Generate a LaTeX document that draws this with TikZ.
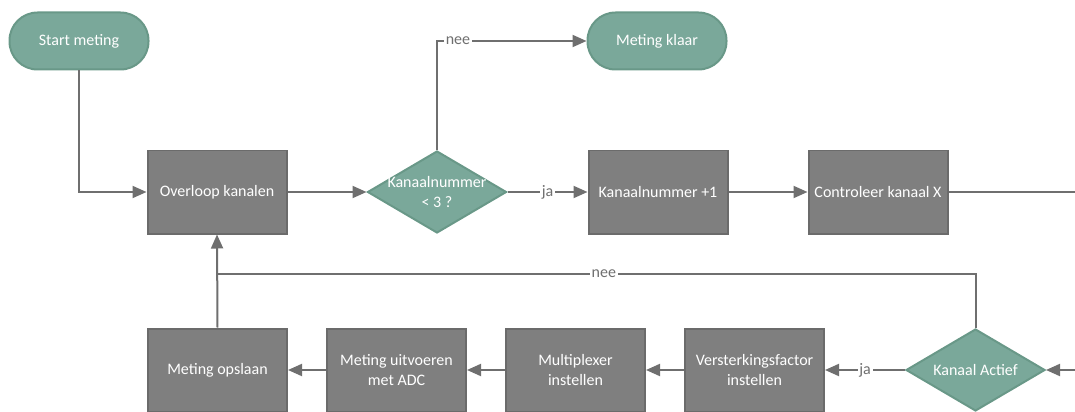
\documentclass[tikz,border=0pt]{standalone}
\usepackage{fontspec}
\setmainfont{Carlito}
\usepackage{xcolor}
\usepackage{tikz}
\usetikzlibrary{arrows.meta,positioning,shapes.geometric,calc}
\definecolor{groen}{HTML}{7AA89A}
\definecolor{groenrand}{HTML}{699888}
\definecolor{grijs}{HTML}{7F7F7F}
\definecolor{grijsrand}{HTML}{6B6B6B}
\definecolor{lijn}{HTML}{6F6F6F}
\tikzset{
	blok/.style={rectangle,draw=grijsrand,fill=grijs,line width=0.04cm,minimum width=2.78cm,minimum height=1.66cm,text=white,align=center,font=\fontsize{9.1}{11.2}\selectfont},
	eind/.style={rectangle,rounded corners=0.56cm,draw=groenrand,fill=groen,line width=0.04cm,minimum width=2.78cm,minimum height=1.14cm,text=white,font=\fontsize{9.1}{11.2}\selectfont},
	beslis/.style={diamond,draw=groenrand,fill=groen,line width=0.04cm,minimum width=2.78cm,minimum height=1.64cm,inner sep=0pt},
	tekst/.style={text=white,align=center,inner sep=0pt,font=\fontsize{9.1}{11.2}\selectfont},
	pijl/.style={draw=lijn,line width=0.04cm,-{Triangle[length=0.28cm,width=0.24cm]}},
	lijntje/.style={draw=lijn,line width=0.04cm},
	keuze/.style={fill=white,text=lijn,inner sep=1pt,font=\fontsize{9.1}{11.2}\selectfont}
}
\begin{document}
\begin{tikzpicture}[transform shape,scale=1]
		\useasboundingbox (0,0) rectangle (21.5,8.22);
		\clip (0,0) rectangle (21.5,8.22);
		% bovenste rij
		\node[eind] (start) at (1.58,7.4) {Start meting};
		\node[eind] (klaar) at (13.14,7.4) {Meting klaar};
		\node[blok] (overloop) at (4.34,4.38) {Overloop kanalen};
		\node[beslis] (kn) at (8.74,4.38) {};
		\node[tekst] (kntekst) at (kn) {Kanaalnummer\\< 3 ?};
		\node[blok] (plus) at (13.16,4.38) {Kanaalnummer +1};
		\node[blok] (controle) at (17.56,4.38) {Controleer kanaal X};
		% onderste rij
		\node[beslis] (actief) at (19.51,0.82) {};
		\node[tekst] (actieftekst) at (actief) {Kanaal Actief};
		\node[blok] (versterk) at (15.09,0.82) {Versterkingsfactor\\instellen};
		\node[blok] (mux) at (11.51,0.82) {Multiplexer\\instellen};
		\node[blok] (adc) at (7.93,0.82) {Meting uitvoeren\\met ADC};
		\node[blok] (opslaan) at (4.35,0.82) {Meting opslaan};
		\coordinate (omweg) at (22.5,4.38);
		\coordinate (terug) at (4.34,2.74);
		% verbindingen
		\draw[pijl] (start.south) |- (overloop.west);
		\draw[pijl] (overloop.east) -- (kn.west);
		\draw[pijl] (kn.north) |- node[keuze,pos=0.57] {nee} (klaar.west);
		\draw[pijl] (kn.east) -- node[keuze] {ja} (plus.west);
		\draw[pijl] (plus.east) -- (controle.west);
		\draw[pijl] (controle.east) -- (omweg) |- (actief.east);
		\draw[pijl] (actief.west) -- node[keuze] {ja} (versterk.east);
		\draw[pijl] (versterk.west) -- (mux.east);
		\draw[pijl] (mux.west) -- (adc.east);
		\draw[pijl] (adc.west) -- (opslaan.east);
		\draw[pijl] (opslaan.north) -- (overloop.south);
		\draw[lijntje] (actief.north) |- node[keuze,pos=0.745] {nee} (terug);
	\end{tikzpicture}
\end{document}
